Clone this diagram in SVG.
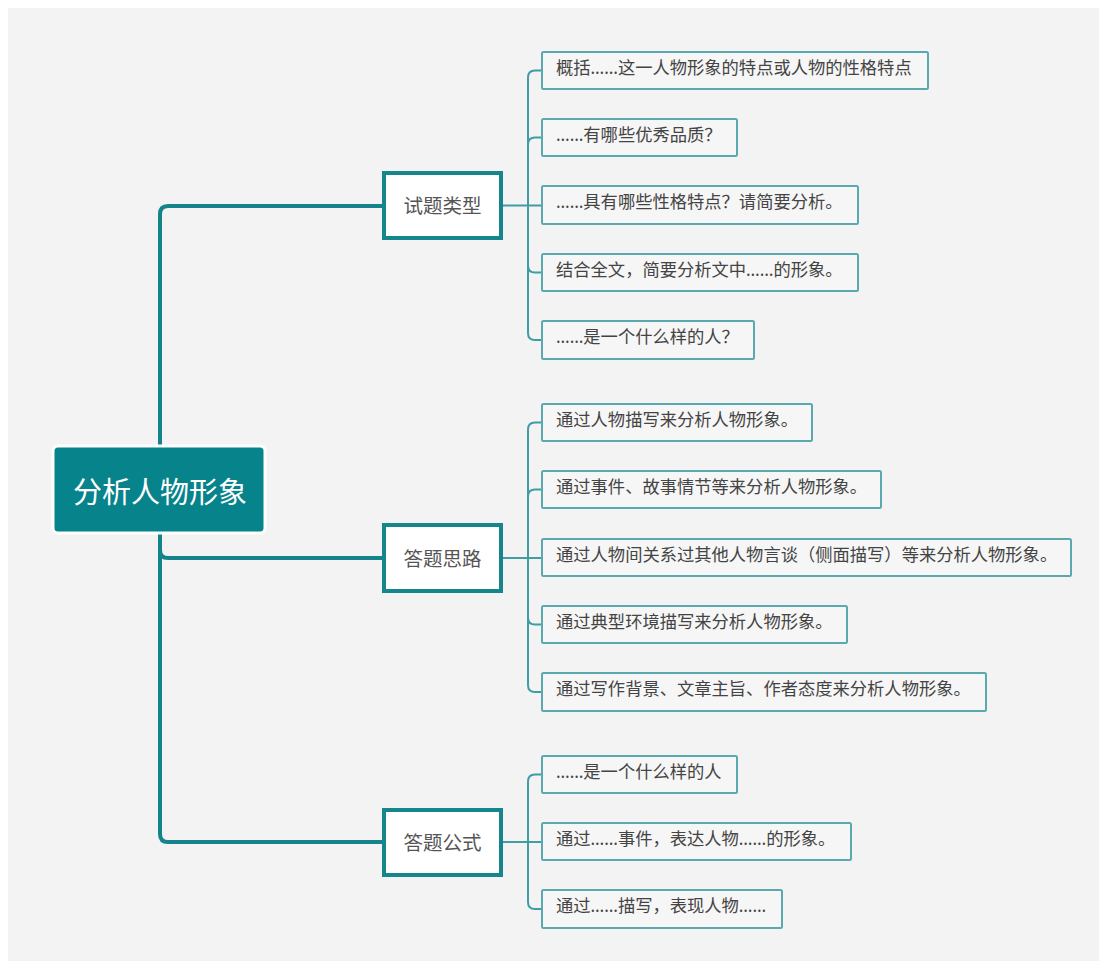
<svg xmlns="http://www.w3.org/2000/svg" width="1105" height="967" viewBox="0 0 1105 967">
<style>
.trunk{fill:none;stroke:#14838a;stroke-width:4;stroke-linecap:round}
.sub{fill:none;stroke:#3f9da3;stroke-width:2}
.branch rect{fill:#ffffff;stroke:#16868d;stroke-width:4}
.branch text{font-family:"Noto Sans CJK SC","Noto Sans",sans-serif;font-size:19.5px;fill:#555555;text-anchor:middle}
.leaf rect{fill:#f6f6f6;stroke:#5aa9af;stroke-width:2;rx:1.5}
.leaf text{font-family:"Noto Sans","Noto Sans CJK SC",sans-serif;font-size:17.3px;fill:#444444}
</style>
<rect x="0" y="0" width="1105" height="967" fill="#ffffff"/>
<rect x="8" y="8" width="1091" height="953" fill="#f3f3f3"/>

<g id="connectors">
  <path class="trunk" d="M160,446 V214 Q160,206 168,206 H384"/>
  <path class="trunk" d="M160,533 V834 Q160,842 168,842 H384"/>
  <path class="trunk" d="M160,550 Q160,558 168,558 H384"/>
  <path class="sub" d="M503,205.5 H542"/>
  <path class="sub" d="M542,70.5 H535 Q528,70.5 528,77.5 V333 Q528,340 535,340 H542"/>
  <path class="sub" d="M528,144.5 Q528,137.5 535,137.5 H542"/>
  <path class="sub" d="M528,265.5 Q528,272.5 535,272.5 H542"/>
  <path class="sub" d="M503,558 H542"/>
  <path class="sub" d="M542,422.5 H535 Q528,422.5 528,429.5 V685 Q528,692 535,692 H542"/>
  <path class="sub" d="M528,496.5 Q528,489.5 535,489.5 H542"/>
  <path class="sub" d="M528,617.5 Q528,624.5 535,624.5 H542"/>
  <path class="sub" d="M503,842 H542"/>
  <path class="sub" d="M542,774.5 H535 Q528,774.5 528,781.5 V902 Q528,909 535,909 H542"/>
</g>

<g id="root">
  <rect x="53" y="446" width="212" height="87" rx="5" fill="#07838b" stroke="#ffffff" stroke-width="3"/>
  <text x="160" y="503" font-family="Noto Sans CJK SC, Noto Sans, sans-serif" font-size="29" fill="#ffffff" text-anchor="middle">分析人物形象</text>
</g>

<g id="branch-1" class="branch">
  <rect x="384" y="173" width="117" height="65"/>
  <text x="442.5" y="213">试题类型</text>
</g>
<g id="branch-2" class="branch">
  <rect x="384" y="525" width="117" height="66"/>
  <text x="442.5" y="565.5">答题思路</text>
</g>
<g id="branch-3" class="branch">
  <rect x="384" y="810" width="117" height="65"/>
  <text x="442.5" y="850">答题公式</text>
</g>

<g id="leaf-1-1" class="leaf"><rect x="542" y="52" width="386" height="37"/><text x="556" y="73.5">概括……这一人物形象的特点或人物的性格特点</text></g>
<g id="leaf-1-2" class="leaf"><rect x="542" y="119" width="195" height="37"/><text x="556" y="140.5">……有哪些优秀品质？</text></g>
<g id="leaf-1-3" class="leaf"><rect x="542" y="186" width="316" height="38"/><text x="556" y="208">……具有哪些性格特点？请简要分析。</text></g>
<g id="leaf-1-4" class="leaf"><rect x="542" y="254" width="316" height="37"/><text x="556" y="275.5">结合全文，简要分析文中……的形象。</text></g>
<g id="leaf-1-5" class="leaf"><rect x="542" y="321" width="212" height="38"/><text x="556" y="343">……是一个什么样的人？</text></g>

<g id="leaf-2-1" class="leaf"><rect x="542" y="404" width="270" height="37"/><text x="556" y="425.5">通过人物描写来分析人物形象。</text></g>
<g id="leaf-2-2" class="leaf"><rect x="542" y="471" width="339" height="37"/><text x="556" y="492.5">通过事件、故事情节等来分析人物形象。</text></g>
<g id="leaf-2-3" class="leaf"><rect x="542" y="539" width="529" height="37"/><text x="556" y="560.5">通过人物间关系过其他人物言谈（侧面描写）等来分析人物形象。</text></g>
<g id="leaf-2-4" class="leaf"><rect x="542" y="606" width="305" height="37"/><text x="556" y="627.5">通过典型环境描写来分析人物形象。</text></g>
<g id="leaf-2-5" class="leaf"><rect x="542" y="673" width="444" height="38"/><text x="556" y="695">通过写作背景、文章主旨、作者态度来分析人物形象。</text></g>

<g id="leaf-3-1" class="leaf"><rect x="542" y="756" width="195" height="37"/><text x="556" y="777.5">……是一个什么样的人</text></g>
<g id="leaf-3-2" class="leaf"><rect x="542" y="823" width="309" height="37"/><text x="556" y="844.5">通过……事件，表达人物……的形象。</text></g>
<g id="leaf-3-3" class="leaf"><rect x="542" y="890" width="240" height="38"/><text x="556" y="912">通过……描写，表现人物……</text></g>
</svg>
